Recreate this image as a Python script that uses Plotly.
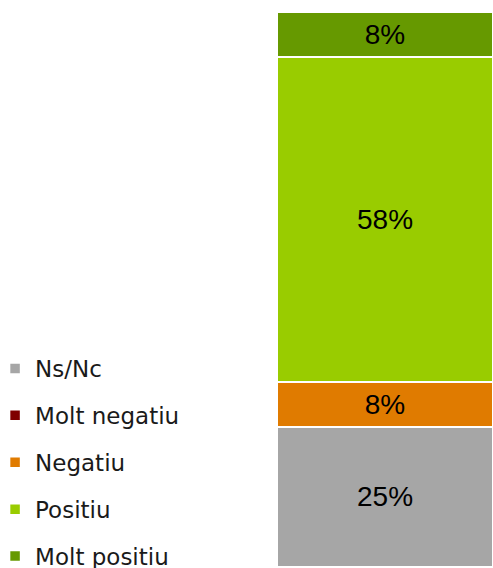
import plotly.graph_objects as go

categories = ["Ns/Nc", "Molt negatiu", "Negatiu", "Positiu", "Molt positiu"]
values = [25, 0, 8, 58, 8]
colors = ["#A6A6A6", "#7F0000", "#E07B00", "#99CC00", "#669900"]

W, H = 493, 568

fig = go.Figure()
for i, (name, v, c) in enumerate(zip(categories, values, colors)):
    fig.add_trace(go.Bar(
        x=[0], y=[v], name=name,
        marker=dict(color=c, line=dict(color="white", width=2.5)),
        text=[f"{v}%" if v > 0 else ""],
        textposition="inside",
        insidetextanchor="middle",
        textangle=0,
        textfont=dict(family="Liberation Sans", size=28, color="black"),
        legendgroup=f"g{i}",
        width=1,
        hoverinfo="skip",
    ))

fig.update_layout(
    barmode="stack",
    width=W, height=H,
    margin=dict(l=0, r=0, t=0, b=0, autoexpand=False),
    paper_bgcolor="white", plot_bgcolor="white",
    xaxis=dict(domain=[277/W, 1], range=[-0.5, 0.5], visible=False, fixedrange=True),
    yaxis=dict(range=[-0.17, 101.14], visible=False, fixedrange=True),
    showlegend=True,
    legend=dict(
        x=-0.01, xanchor="left", y=1 - 347/H, yanchor="top",
        traceorder="grouped", tracegroupgap=14,
        font=dict(family="DejaVu Sans", size=23, color="#1a1a1a"),
        itemwidth=30, bgcolor="rgba(0,0,0,0)",
    ),
)

fig.write_html(
    "out.html",
    config={"displayModeBar": False},
    post_script="document.body.style.margin='0';document.body.style.overflow='hidden';",
)
